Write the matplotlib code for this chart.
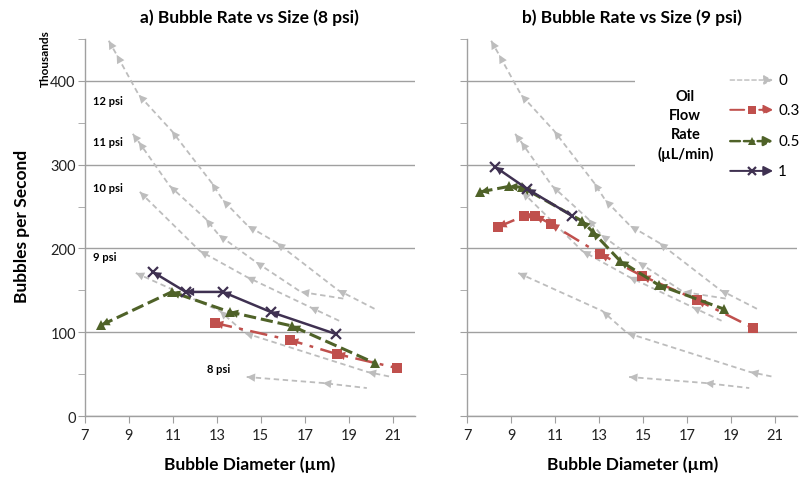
import matplotlib.pyplot as plt
from matplotlib.patches import Rectangle

plt.rcParams['font.family'] = ['Lato', 'DejaVu Sans']

# reference curves, oil flow 0 (same in both panels), diameter in um, rate in thousands/s
x_12psi = [8.09, 8.45, 9.45, 10.95, 12.77, 13.27, 14.41, 15.73, 18.5, 20.18]
y_12psi = [447.8, 431.0, 383.3, 340.3, 278.2, 257.9, 226.9, 206.6, 150.4, 127.8]
x_11psi = [9.18, 9.45, 10.86, 12.5, 13.09, 14.77, 16.82, 18.86]
y_11psi = [336.7, 327.2, 274.6, 235.2, 216.1, 183.9, 148.1, 139.7]
x_10psi = [9.5, 12.23, 14.36, 17.23, 18.68]
y_10psi = [267.5, 197.0, 166.0, 130.1, 112.2]
x_9psi = [9.32, 13.14, 14.27, 19.86, 20.95]
y_9psi = [170.7, 125.4, 99.1, 52.5, 46.6]
x_8psi = [14.36, 17.82, 19.82]
y_8psi = [46.6, 39.4, 33.4]

psi_names = ['12 psi', '11 psi', '10 psi', '9 psi', '8 psi']

# panel a) 8 psi
a_x03 = [12.91, 16.32, 18.45, 21.18]
a_y03 = [111.0, 90.7, 74.0, 57.3]
a_x05 = [7.75, 10.95, 13.59, 16.41, 20.18]
a_y05 = [108.5, 148.1, 124.2, 107.5, 63.3]
a_x1 = [10.09, 11.59, 13.27, 15.45, 18.41]
a_y1 = [171.9, 148.1, 148.1, 124.2, 97.9]

# panel b) 9 psi
b_x03 = [8.41, 9.6, 10.1, 10.8, 13.05, 14.95, 17.45, 20.0]
b_y03 = [225.7, 239.0, 239.0, 229.3, 193.4, 167.2, 138.5, 105.1]
b_x05 = [7.6, 8.9, 9.5, 12.2, 12.7, 13.95, 15.7, 18.65]
b_y05 = [267.5, 274.0, 273.0, 233.0, 220.0, 185.1, 156.4, 127.8]
b_x1 = [8.27, 9.73, 11.77]
b_y1 = [297.3, 271.0, 238.8]

flow_labels = ['0', '0.3', '0.5', '1']

gray = '#BDBDBD'
red = '#C0504D'
green = '#4F6228'
purple = '#3F3151'
axis_gray = '#A0A0A0'

styles = {
    '0': dict(color=gray, dashes=(3, 2), lw=1.3, marker=None, ms=0, mew=0),
    '0.3': dict(color=red, dashes=(7, 3, 1.5, 3), lw=1.8, marker='s', ms=7, mew=0),
    '0.5': dict(color=green, dashes=(4, 1.6), lw=2.2, marker='^', ms=7, mew=0),
    '1': dict(color=purple, dashes=(None, None), lw=1.8, marker='x', ms=7, mew=1.6),
}


def draw(ax, x, y, key, z=3):
    st = styles[key]
    line, = ax.plot(x, y, color=st['color'], lw=st['lw'], marker=st['marker'],
                    ms=st['ms'], mew=st['mew'], zorder=z)
    if st['dashes'][0] is not None:
        line.set_dashes(st['dashes'])
    # arrow head at each point, pointing towards smaller diameter
    for i in range(len(x) - 1):
        ax.annotate('', xy=(x[i], y[i]), xytext=(x[i + 1], y[i + 1]),
                    arrowprops=dict(arrowstyle='-|>,head_length=0.6,head_width=0.3',
                                    color=st['color'], lw=0, shrinkA=0, shrinkB=0,
                                    mutation_scale=10), zorder=z)


def style_axes(ax):
    ax.set_xlim(7, 22)
    ax.set_ylim(0, 450)
    ax.set_xticks(range(7, 22, 2))
    ax.set_yticks(range(0, 401, 100))
    ax.set_yticks(range(50, 451, 100), minor=True)
    ax.grid(axis='y', which='major', color=axis_gray, lw=1.0)
    ax.set_axisbelow(True)
    for s in ['top', 'right']:
        ax.spines[s].set_visible(False)
    for s in ['left', 'bottom']:
        ax.spines[s].set_color(axis_gray)
        ax.spines[s].set_linewidth(1.0)
    ax.tick_params(which='both', direction='out', length=5, color=axis_gray,
                   labelsize=10.5, labelcolor='#222222')
    ax.tick_params(axis='y', pad=1.5)
    ax.set_xlabel('Bubble Diameter (\u00b5m)', fontsize=12.5, fontweight='bold', labelpad=10)


fig = plt.figure(figsize=(8, 4.81), dpi=100)
ax1 = fig.add_axes([0.106, 0.133, 0.4125, 0.784])
ax2 = fig.add_axes([0.584, 0.133, 0.4125, 0.784])

ref_x = [x_12psi, x_11psi, x_10psi, x_9psi, x_8psi]
ref_y = [y_12psi, y_11psi, y_10psi, y_9psi, y_8psi]

for ax in [ax1, ax2]:
    style_axes(ax)
    for x, y in zip(ref_x, ref_y):
        draw(ax, x, y, '0', z=2)

draw(ax1, a_x03, a_y03, '0.3')
draw(ax1, a_x05, a_y05, '0.5')
draw(ax1, a_x1, a_y1, '1', z=4)

draw(ax2, b_x03, b_y03, '0.3')
draw(ax2, b_x05, b_y05, '0.5')
draw(ax2, b_x1, b_y1, '1', z=4)

# pressure labels on panel a
psi_pos = [(7.36, 377), (7.36, 328), (7.36, 273), (7.36, 190), (12.55, 57)]
for name, (px, py) in zip(psi_names, psi_pos):
    ax1.text(px, py, name, fontsize=8, fontweight='bold', va='center', ha='left')

ax1.set_title('a) Bubble Rate vs Size (8 psi)', fontsize=12.5, fontweight='bold', pad=12)
ax2.set_title('b) Bubble Rate vs Size (9 psi)', fontsize=12.5, fontweight='bold', pad=12)
ax2.tick_params(labelleft=False)

fig.text(0.028, 0.53, 'Bubbles per Second', rotation=90, fontsize=12.5,
         fontweight='bold', ha='center', va='center')
fig.text(0.057, 0.878, 'Thousands', rotation=90, fontsize=8.5,
         fontweight='bold', ha='center', va='center')

# legend box (covers the gridlines behind it)
ax2.add_patch(Rectangle((0.509, 0.462), 0.5, 0.53, transform=ax2.transAxes,
                        facecolor='white', edgecolor='none', zorder=1, clip_on=False))
ax2.text(0.661, 0.772, 'Oil\nFlow\nRate\n(\u00b5L/min)', transform=ax2.transAxes,
         fontsize=10.5, fontweight='bold', ha='center', va='center', linespacing=1.45, zorder=5)
leg_y = [0.891, 0.812, 0.729, 0.650]
for key, yy in zip(flow_labels, leg_y):
    st = styles[key]
    ax2.annotate('', xy=(0.927, yy), xytext=(0.797, yy), xycoords='axes fraction',
                 arrowprops=dict(arrowstyle='-|>,head_length=0.55,head_width=0.28',
                                 color=st['color'], lw=st['lw'] * 0.8,
                                 linestyle=(0, st['dashes']) if st['dashes'][0] else '-',
                                 shrinkA=0, shrinkB=0, mutation_scale=10),
                 zorder=5, annotation_clip=False)
    if st['marker']:
        ax2.plot([0.862], [yy], transform=ax2.transAxes, color=st['color'],
                 marker=st['marker'], ms=6, mew=st['mew'], clip_on=False, zorder=6)
    ax2.text(0.942, yy, key, transform=ax2.transAxes, fontsize=11, va='center', ha='left',
             zorder=6)

fig.savefig('out.png', dpi=100)
